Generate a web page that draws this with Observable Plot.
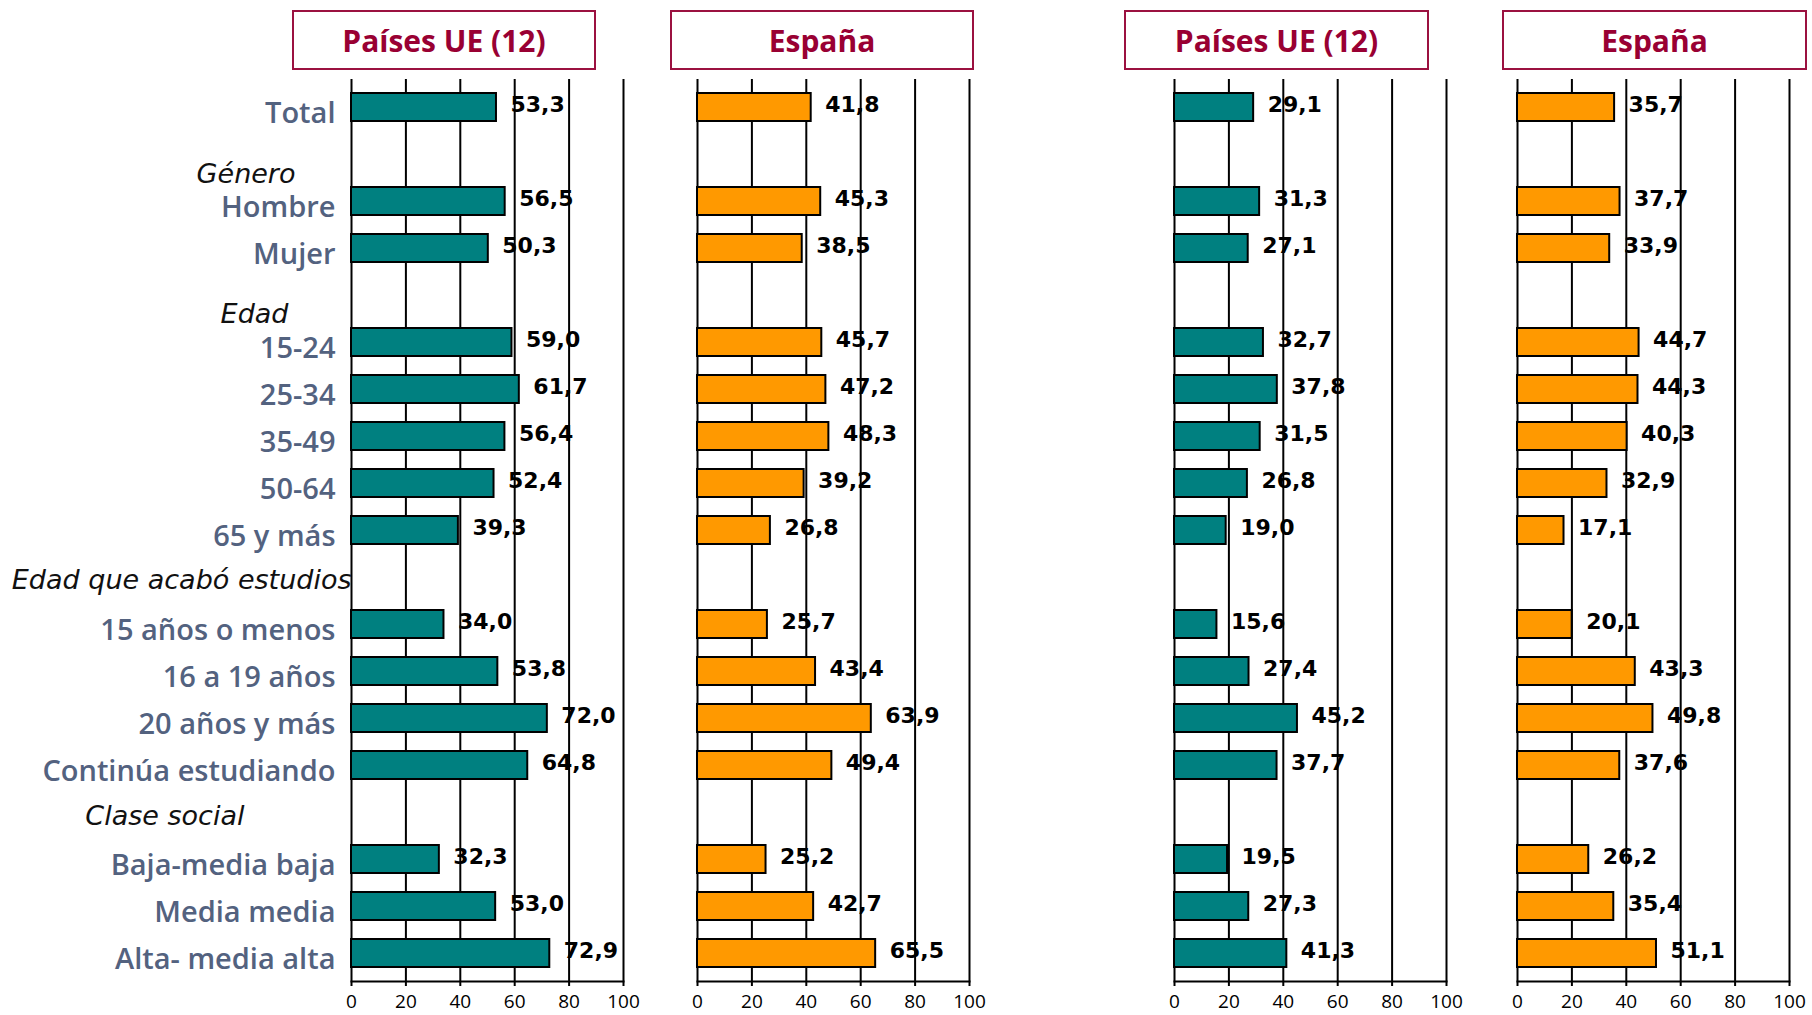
<!DOCTYPE html>
<html>
<head>
<meta charset="utf-8">
<script src="https://cdn.jsdelivr.net/npm/d3@7"></script>
<script src="https://cdn.jsdelivr.net/npm/@observablehq/plot@0.6"></script>
<style>
  html, body { margin: 0; padding: 0; background: #fff; }
  #wrap { position: relative; width: 1812px; height: 1015px; }
  .panel { position: absolute; top: 0; }
  .title {
    position: absolute; top: 10px; height: 56px;
    border: 2px solid #9b1140; box-sizing: content-box;
    display: flex; align-items: center; justify-content: center;
    font-family: "Open Sans", sans-serif; font-weight: 700; font-size: 30px;
    color: #990033;
  }
</style>
</head>
<body>
<div id="wrap"></div>
<script>
// ---- data ----
const rows = ["Total", "_b1", "Hombre", "Mujer", "_b2", "15-24", "25-34", "35-49", "50-64", "65 y más",
  "_b3", "15 años o menos", "16 a 19 años", "20 años y más", "Continúa estudiando",
  "_b4", "Baja-media baja", "Media media", "Alta- media alta"];
const categories = ["Total", "Hombre", "Mujer", "15-24", "25-34", "35-49", "50-64", "65 y más",
  "15 años o menos", "16 a 19 años", "20 años y más", "Continúa estudiando",
  "Baja-media baja", "Media media", "Alta- media alta"];
const ue1 = [53.3, 56.5, 50.3, 59.0, 61.7, 56.4, 52.4, 39.3, 34.0, 53.8, 72.0, 64.8, 32.3, 53.0, 72.9];
const es1 = [41.8, 45.3, 38.5, 45.7, 47.2, 48.3, 39.2, 26.8, 25.7, 43.4, 63.9, 49.4, 25.2, 42.7, 65.5];
const ue2 = [29.1, 31.3, 27.1, 32.7, 37.8, 31.5, 26.8, 19.0, 15.6, 27.4, 45.2, 37.7, 19.5, 27.3, 41.3];
const es2 = [35.7, 37.7, 33.9, 44.7, 44.3, 40.3, 32.9, 17.1, 20.1, 43.3, 49.8, 37.6, 26.2, 35.4, 51.1];
const groupLabels = ["Género", "Edad", "Edad que acabó estudios", "Clase social"];
const groupRows = ["_b1", "_b2", "_b3", "_b4"];
const panelTitles = ["Países UE (12)", "España", "Países UE (12)", "España"];
const xTicks = [0, 20, 40, 60, 80, 100];
const xTickLabels = ["0", "20", "40", "60", "80", "100"];

// ---- layout / style ----
const TEAL = "#008080", ORANGE = "#ff9900";
const panels = [
  {values: ue1, color: TEAL, x0: 351, yAxis: true},
  {values: es1, color: ORANGE, x0: 697},
  {values: ue2, color: TEAL, x0: 1174},
  {values: es2, color: ORANGE, x0: 1517}
];
const titleBoxes = [[292, 304], [670, 304], [1124, 305], [1502, 305]];
const groupOffsets = [[-56, 20], [-63, 19], [0, 3], [-107, 4]];
const RANGE = 272, MR = 22, PADL = 40;
const fmt = v => v.toFixed(1).replace(".", ",");

const wrap = document.getElementById("wrap");

panels.forEach((p, k) => {
  const data = categories.map((c, i) => ({cat: c, v: p.values[i]}));
  const tickData = xTicks.map((t, i) => ({t, label: xTickLabels[i]}));
  const ml = p.yAxis ? p.x0 : PADL;
  const left = p.x0 - ml;
  const marks = [
    Plot.ruleX(xTicks, {stroke: "black", strokeWidth: 2}),
    Plot.frame({anchor: "bottom", stroke: "black", strokeWidth: 2}),
    Plot.barX(data, {x: "v", y: "cat", fill: p.color, stroke: "black", strokeWidth: 2}),
    Plot.text(data, {x: "v", y: "cat", text: d => fmt(d.v), dx: 14, dy: -3, textAnchor: "start",
      fontFamily: "DejaVu Sans", fontWeight: "bold", fontSize: 22, fill: "black"}),
    Plot.axisX({ticks: xTicks, tickSize: 5, text: null, stroke: "black", strokeWidth: 2}),
    Plot.text(tickData, {x: "t", text: "label", frameAnchor: "bottom", dy: 26,
      fontSize: 19, fontFamily: "Open Sans", fill: "black"})
  ];
  if (p.yAxis) {
    marks.push(Plot.axisY({ticks: categories, tickSize: 0, tickPadding: 16, dy: 6,
      fontSize: 29, fontWeight: 600, fontFamily: "Open Sans", fill: "#53627f"}));
    groupLabels.forEach((g, i) => {
      marks.push(Plot.text([{g, r: groupRows[i]}], {x: () => 0, y: "r", text: "g", textAnchor: "end",
        dx: groupOffsets[i][0], dy: groupOffsets[i][1], fontStyle: "italic", fontWeight: 300, fontSize: 27,
        fontFamily: "DejaVu Sans", fill: "#111"}));
    });
  }
  const chart = Plot.plot({
    width: ml + RANGE + MR,
    height: 1015,
    marginTop: 79,
    marginBottom: 34,
    marginLeft: ml,
    marginRight: MR,
    style: {background: "transparent", overflow: "visible"},
    x: {domain: [0, 100], axis: null},
    y: {domain: rows, paddingInner: 0.4, paddingOuter: 0.2, axis: null},
    marks
  });
  chart.classList.add("panel");
  chart.style.left = left + "px";
  wrap.appendChild(chart);

  const t = document.createElement("div");
  t.className = "title";
  t.textContent = panelTitles[k];
  t.style.left = titleBoxes[k][0] + "px";
  t.style.width = (titleBoxes[k][1] - 4) + "px";
  wrap.appendChild(t);
});
</script>
</body>
</html>
